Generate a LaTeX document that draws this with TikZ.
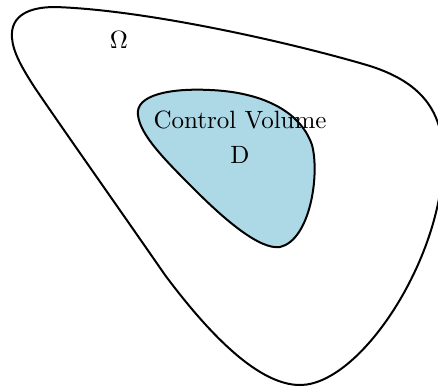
\documentclass[tikz,border=0pt]{standalone}
\definecolor{cvblue}{RGB}{173,216,230}
\tikzset{
  boundary/.style={draw=black, thick},
  lbl/.style={inner sep=0pt, font=\normalsize}
}
\begin{document}
\begin{tikzpicture}[x=0.4pt,y=-0.4pt]
\useasboundingbox (0,0) rectangle (438,387);
% outer domain
\draw[boundary] (12,38) .. controls (10,15) and (30,7) .. (55,7)
  .. controls (150,10) and (300,45) .. (370,66)
  .. controls (420,82) and (444,110) .. (443,160)
  .. controls (442,260) and (360,385) .. (300,385)
  .. controls (260,385) and (212,338) .. (165,275)
  .. controls (120,210) and (60,125) .. (35,88)
  .. controls (22,68) and (13,52) .. (12,38) -- cycle;
% control volume
\draw[boundary, fill=cvblue] (138,115) .. controls (135,95) and (170,88) .. (210,90)
  .. controls (260,92) and (300,110) .. (312,145)
  .. controls (320,175) and (310,240) .. (280,247)
  .. controls (260,250) and (225,220) .. (195,190)
  .. controls (165,160) and (140,135) .. (138,115) -- cycle;
\node[lbl] (omega) at (119,40) {$\Omega$};
\node[lbl] (cv) at (240,120) {Control Volume};
\node[lbl] (d) at (240,155) {D};
\end{tikzpicture}
\end{document}
